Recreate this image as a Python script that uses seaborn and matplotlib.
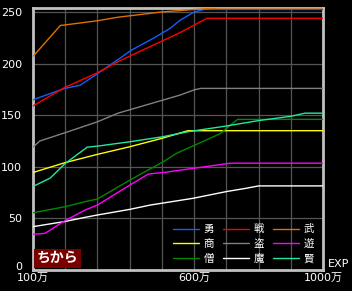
import matplotlib
matplotlib.use("Agg")
import matplotlib.pyplot as plt
import matplotlib.transforms as mtransforms
import seaborn as sns
import pandas as pd

# ---- data (x in 万 EXP) ----
jobs = ["勇", "商", "僧", "戦", "盗", "魔", "武", "遊", "賢"]
colors = ["#1060ff", "#ffff00", "#008800", "#ff0000", "#808080", "#ffffff", "#e07000", "#ff00ff", "#20e8a0"]

yu_x = [100, 199, 246, 299, 364, 405, 473, 525, 556, 600, 630, 1000]
yu_y = [165, 176, 179, 190, 204, 213, 224.5, 234, 242, 250, 252.5, 252.5]

sho_x = [100, 199, 299, 401, 500, 581, 1000]
sho_y = [94.5, 104, 112, 119.5, 127.6, 135, 135]

so_x = [100, 199, 261, 300, 401, 510, 545, 680, 735, 1000]
so_y = [55.5, 61.3, 66.2, 68.8, 87.2, 106, 113, 132, 146, 146]

sen_x = [100, 199, 299, 364, 556, 640, 1000]
sen_y = [159, 177, 191, 202, 230, 244, 244]

to_x = [100, 121, 199, 299, 364, 556, 600, 620, 1000]
to_y = [119, 125, 133, 143.5, 152, 169.5, 174.5, 176, 176]

ma_x = [100, 199, 261, 300, 401, 465, 597, 700, 758, 800, 1000]
ma_y = [42, 47, 51, 53.3, 58.8, 63, 69.5, 76, 79, 81.5, 81.5]

bu_x = [100, 185, 199, 299, 364, 497, 600, 680, 1000]
bu_y = [207, 237, 237.5, 241.5, 245, 250, 252.5, 254, 254]

asobi_x = [100, 137, 199, 261, 300, 401, 458, 510, 712, 1000]
asobi_y = [34.6, 35.5, 47.8, 58, 63, 82.4, 93, 94.7, 103.5, 103.5]

ken_x = [100, 153, 199, 268, 299, 401, 500, 581, 699, 798, 901, 944, 1000]
ken_y = [81, 89, 103, 119, 120, 124.3, 129, 134, 139.5, 144.7, 149, 152, 152]

xtick_vals = [100, 600, 1000]
xtick_labels = ["100万", "600万", "1000万"]
ytick_vals = [0, 50, 100, 150, 200, 250]
title_text = "ちから"
xlabel_text = "EXP"

series = {
    "勇": (yu_x, yu_y), "商": (sho_x, sho_y), "僧": (so_x, so_y),
    "戦": (sen_x, sen_y), "盗": (to_x, to_y), "魔": (ma_x, ma_y),
    "武": (bu_x, bu_y), "遊": (asobi_x, asobi_y), "賢": (ken_x, ken_y),
}
frames = []
for j in jobs:
    xs, ys = series[j]
    frames.append(pd.DataFrame({"exp": xs, "val": ys, "job": j}))
df = pd.concat(frames, ignore_index=True)

sns.set_theme(style="dark")
plt.rcParams["font.family"] = ["DejaVu Sans", "Noto Sans CJK JP"]

fig = plt.figure(figsize=(3.52, 2.91), dpi=100, facecolor="black")
ax = fig.add_axes([33/352, 1 - 270/291, 290/352, 262.5/291])
ax.set_facecolor("black")

# grid
for gx in range(100, 1001, 100):
    ax.axvline(gx, color="#555555", lw=0.9, zorder=0)
for gy in ytick_vals:
    ax.axhline(gy, color="#555555", lw=0.9, zorder=0)

palette = dict(zip(jobs, colors))
sns.lineplot(data=df, x="exp", y="val", hue="job", hue_order=jobs, palette=palette,
             linewidth=1.0, ax=ax, legend=True, zorder=3)

ax.set_xlim(100, 1000)
ax.set_ylim(0, 254.4)
ax.set_xticks(xtick_vals)
ax.set_xticklabels(xtick_labels)
ax.set_yticks(ytick_vals)
ax.set_xlabel("")
ax.set_ylabel("")
ax.tick_params(axis="both", colors="white", labelsize=8, length=0)
ax.tick_params(axis="y", pad=8)
ax.tick_params(axis="x", pad=2)
for lab in ax.get_xticklabels() + ax.get_yticklabels():
    lab.set_color("white")
# raise the "0" label slightly, as in the reference
zero_lab = ax.get_yticklabels()[0]
zero_lab.set_transform(zero_lab.get_transform() +
                       mtransforms.ScaledTranslation(0, 4/100, fig.dpi_scale_trans))
for sp in ax.spines.values():
    sp.set_visible(True)
    sp.set_color("#c0c0c0")
    sp.set_linewidth(2)
ax.grid(False)

handles, labels = ax.get_legend_handles_labels()
hmap = dict(zip(labels, handles))
leg = ax.legend([hmap[j] for j in jobs], jobs, ncol=3, frameon=False,
                fontsize=7.5, handlelength=2.5, handletextpad=0.4,
                columnspacing=0.9, labelspacing=0.45,
                loc="lower right", bbox_to_anchor=(0.99, 0.0), borderaxespad=0.2)
for t in leg.get_texts():
    t.set_color("white")

# title badge
ax.text(0.012, 0.018, title_text, transform=ax.transAxes, color="white",
        fontsize=10, fontweight="bold", family=["Noto Sans CJK JP"],
        ha="left", va="bottom", zorder=5,
        bbox=dict(boxstyle="square,pad=0.18", facecolor="#7a0000", edgecolor="none"))

fig.text(339/352, 1 - 264/291, xlabel_text, color="white", fontsize=8,
         ha="center", va="center")

fig.savefig("out.png", dpi=100, facecolor="black")
